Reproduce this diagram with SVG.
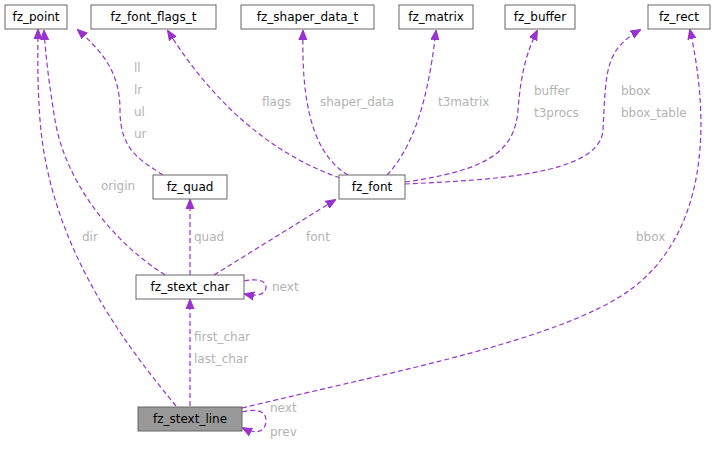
<svg xmlns="http://www.w3.org/2000/svg" width="717" height="449" viewBox="0 0 717 449">
<style>
.n rect{fill:#fff;stroke:#666;stroke-width:1}
.n text{font-family:"DejaVu Sans",sans-serif;font-size:12px;fill:#000;text-anchor:middle}
.e path{fill:none;stroke:#9a32cd;stroke-width:1.2;stroke-dasharray:5,3;marker-end:url(#a)}
.l{font-family:"DejaVu Sans",sans-serif;font-size:12px;fill:#b3b3b3}
</style>
<defs><marker id="a" viewBox="0 0 10 10" refX="9" refY="5" markerWidth="10" markerHeight="10" markerUnits="userSpaceOnUse" orient="auto"><path d="M0,1 L10,5 L0,9 Z" fill="#9a32cd" stroke="#9a32cd"/></marker></defs>
<rect width="717" height="449" fill="#fff"/>
<g class="e">
<path d="M176,406 C130,350 50,250 40,120 C37,80 38,50 38,30"/>
<path d="M165,275 C110,240 65,180 55,120 C50,90 46,60 44,31"/>
<path d="M163,175 C140,160 120,150 120,110 C120,70 100,50 78,30"/>
<path d="M190,275 L190,200"/>
<path d="M214,275 L335,200"/>
<path d="M244,281 C258,278 266,281 266,287 C266,294 258,297 245,294"/>
<path d="M190,406 L190,300"/>
<path d="M242,412 C258,408 266,412 266,420 C266,432 256,435 243,428"/>
<path d="M340,178 C260,150 205,90 168,31"/>
<path d="M348,175 C305,150 302,80 303,31"/>
<path d="M387,175 C420,140 430,80 436,31"/>
<path d="M405,182 C490,170 515,150 518,110 C521,70 528,50 537,31"/>
<path d="M405,184 C490,180 600,175 603,130 C606,70 605,50 640,30"/>
<path d="M242,408 C400,370 560,340 630,290 C705,235 712,130 690,30"/>
</g>
<g class="l">
<text x="82" y="241">dir</text>
<text x="101" y="190">origin</text>
<text x="134" y="72">ll</text><text x="134" y="94">lr</text><text x="134" y="116">ul</text><text x="134" y="138">ur</text>
<text x="194" y="241">quad</text>
<text x="306" y="241">font</text>
<text x="272" y="291">next</text>
<text x="194" y="341">first_char</text><text x="194" y="363">last_char</text>
<text x="270" y="412">next</text><text x="270" y="436">prev</text>
<text x="262" y="106">flags</text>
<text x="320" y="106">shaper_data</text>
<text x="438" y="106">t3matrix</text>
<text x="534" y="95">buffer</text><text x="534" y="117">t3procs</text>
<text x="621" y="95">bbox</text><text x="621" y="117">bbox_table</text>
<text x="636" y="241">bbox</text>
</g>
<g id="fz_point" class="n"><rect x="5" y="5" width="62" height="24"/><text x="36" y="21">fz_point</text></g>
<g id="fz_font_flags_t" class="n"><rect x="91" y="5" width="125" height="24"/><text x="153.5" y="21">fz_font_flags_t</text></g>
<g id="fz_shaper_data_t" class="n"><rect x="241" y="5" width="133" height="24"/><text x="307.5" y="21">fz_shaper_data_t</text></g>
<g id="fz_matrix" class="n"><rect x="399" y="5" width="74" height="24"/><text x="436" y="21">fz_matrix</text></g>
<g id="fz_buffer" class="n"><rect x="505" y="5" width="70" height="24"/><text x="540" y="21">fz_buffer</text></g>
<g id="fz_rect" class="n"><rect x="648" y="5" width="62" height="24"/><text x="679" y="21">fz_rect</text></g>
<g id="fz_quad" class="n"><rect x="153" y="175" width="74" height="24"/><text x="190" y="191">fz_quad</text></g>
<g id="fz_font" class="n"><rect x="339" y="175" width="66" height="24"/><text x="372" y="191">fz_font</text></g>
<g id="fz_stext_char" class="n"><rect x="136" y="275" width="108" height="24"/><text x="190" y="291">fz_stext_char</text></g>
<g id="fz_stext_line" class="n"><rect x="138" y="407" width="104" height="24" style="fill:#999"/><text x="190" y="423">fz_stext_line</text></g>
</svg>
